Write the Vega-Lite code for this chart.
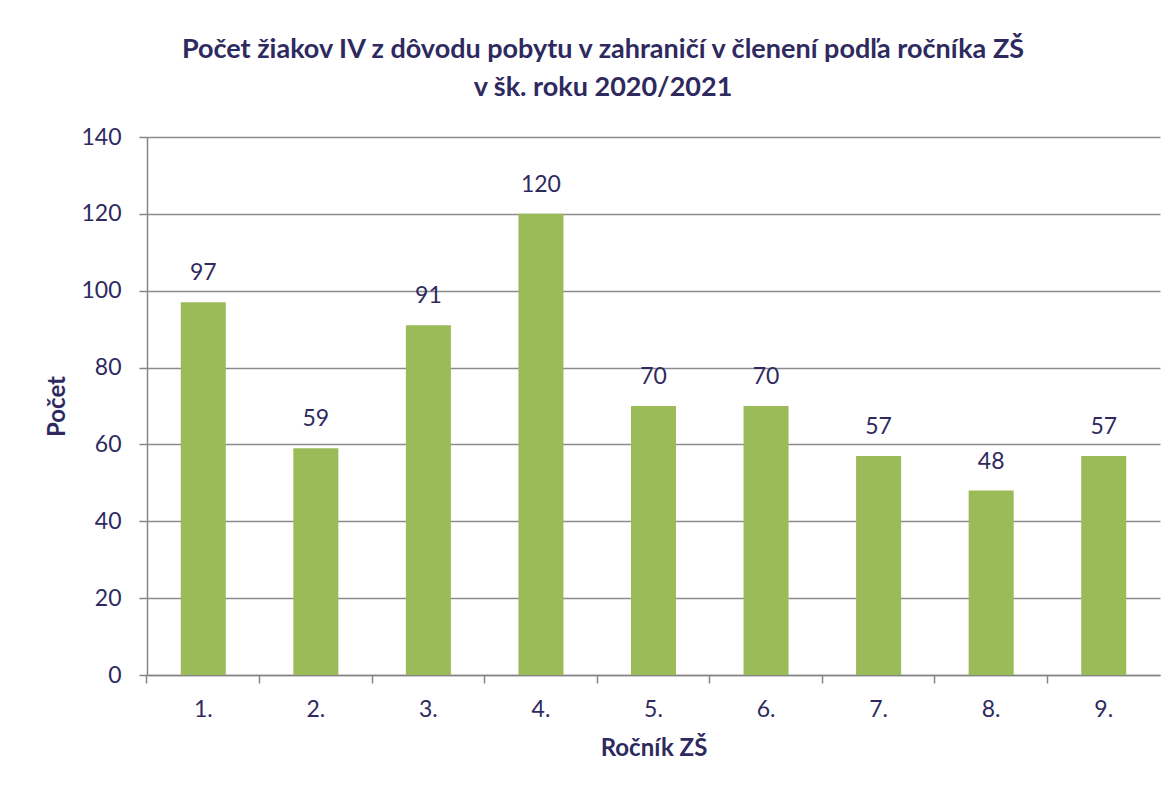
{
  "$schema": "https://vega.github.io/schema/vega-lite/v6.json",
  "width": 1013,
  "height": 538,
  "autosize": {"type": "none"},
  "padding": {"left": 147, "top": 137, "right": 16, "bottom": 114},
  "background": "white",
  "title": {
    "text": ["Počet žiakov IV z dôvodu pobytu v zahraničí v členení podľa ročníka ZŠ", "v šk. roku 2020/2021"],
    "font": "Lato",
    "fontSize": 27,
    "fontWeight": "bold",
    "color": "#2E2A60",
    "lineHeight": 38,
    "anchor": "middle",
    "frame": "bounds",
    "offset": 24
  },
  "config": {
    "view": {"stroke": null},
    "font": "Lato"
  },
  "data": {
    "values": [
      {"rocnik": "1.", "pocet": 97},
      {"rocnik": "2.", "pocet": 59},
      {"rocnik": "3.", "pocet": 91},
      {"rocnik": "4.", "pocet": 120},
      {"rocnik": "5.", "pocet": 70},
      {"rocnik": "6.", "pocet": 70},
      {"rocnik": "7.", "pocet": 57},
      {"rocnik": "8.", "pocet": 48},
      {"rocnik": "9.", "pocet": 57}
    ]
  },
  "encoding": {
    "x": {
      "field": "rocnik",
      "type": "nominal",
      "sort": null,
      "scale": {"paddingInner": 0.6, "paddingOuter": 0.3},
      "axis": {
        "title": "Ročník ZŠ",
        "titleFont": "Lato",
        "titleFontSize": 24,
        "titleFontWeight": "bold",
        "titleColor": "#2E2A60",
        "titlePadding": 15,
        "labelAngle": 0,
        "labelFont": "Lato",
        "labelFontSize": 23,
        "labelColor": "#2E2A60",
        "labelPadding": 15,
        "bandPosition": -0.75,
        "tickSize": 8,
        "tickColor": "#868686",
        "tickWidth": 1.5,
        "domainColor": "#868686",
        "domainWidth": 1.5,
        "grid": false
      }
    },
    "y": {
      "field": "pocet",
      "type": "quantitative",
      "scale": {"domain": [0, 140], "nice": false},
      "axis": {
        "title": "Počet",
        "titleFont": "Lato",
        "titleFontSize": 24,
        "titleFontWeight": "bold",
        "titleColor": "#2E2A60",
        "titlePadding": 11,
        "values": [0, 20, 40, 60, 80, 100, 120, 140],
        "labelFont": "Lato",
        "labelFontSize": 23,
        "labelColor": "#2E2A60",
        "labelPadding": 18,
        "tickSize": 8,
        "tickColor": "#868686",
        "tickWidth": 1.5,
        "domainColor": "#868686",
        "domainWidth": 1.5,
        "grid": true,
        "gridColor": "#8C8C8C",
        "gridWidth": 1.5
      }
    }
  },
  "layer": [
    {"mark": {"type": "bar", "color": "#9BBB59"}},
    {
      "mark": {"type": "text", "dy": -29, "font": "Lato", "fontSize": 23, "color": "#2E2A60"},
      "encoding": {"text": {"field": "pocet", "type": "quantitative"}}
    }
  ]
}
